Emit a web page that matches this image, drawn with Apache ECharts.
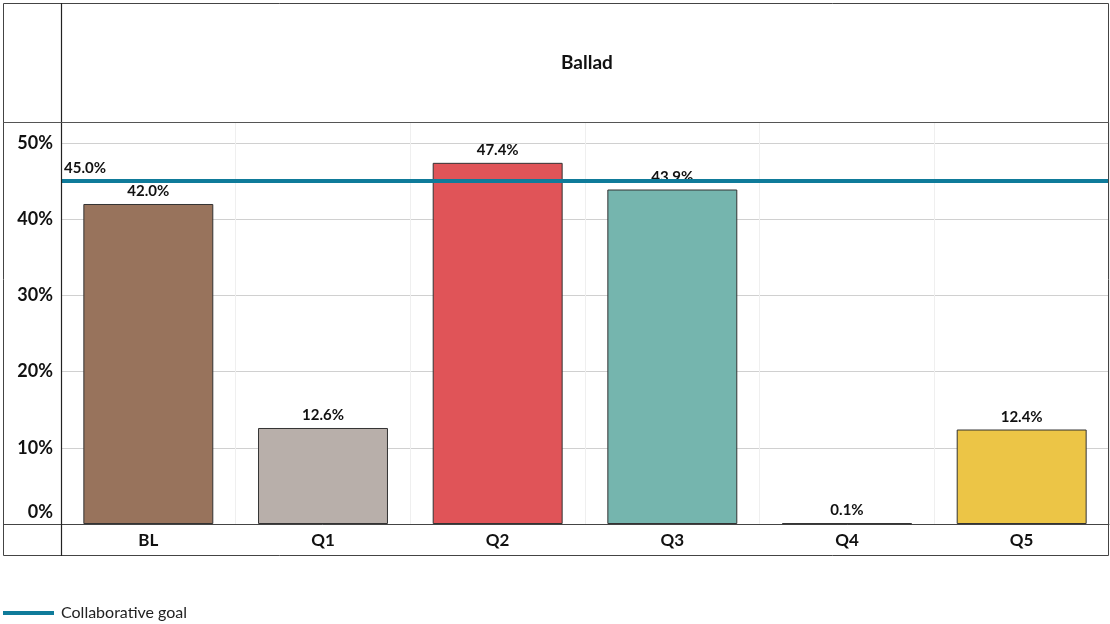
<!DOCTYPE html>
<html><head><meta charset="utf-8">
<script src="https://cdn.jsdelivr.net/npm/echarts@6/dist/echarts.min.js"></script>
<style>html,body{margin:0;padding:0;background:#fff}#c{width:1110px;height:624px}</style>
</head><body><div id="c"></div>
<script>
const categories = ['BL','Q1','Q2','Q3','Q4','Q5'];
const values = [42.0, 12.6, 47.4, 43.9, 0.1, 12.4];
const barColors = ['#98735c','#b8afaa','#e05458','#75b5ae','#333333','#ecc546'];
const goalValue = 45.0;
const goalName = 'Collaborative goal';
const title = 'Ballad';
const yTicks = [0,10,20,30,40,50];

const FONT = 'Lato';
const chart = echarts.init(document.getElementById('c'));
const frame = '#444';
chart.setOption({
  animation:false,
  backgroundColor:'#fff',
  textStyle:{fontFamily:FONT},
  title:{text:title,left:556,top:48,textStyle:{fontFamily:FONT,fontSize:19,fontWeight:'bold',color:'#111'}},
  grid:{left:61,right:1,top:122,bottom:100,containLabel:false},
  legend:{left:3,top:605,padding:0,icon:'rect',itemWidth:51,itemHeight:4,itemGap:6,
    textStyle:{fontFamily:FONT,fontSize:16,color:'#222',padding:[0,0,0,2]},data:[goalName]},
  xAxis:{type:'category',data:categories,
    axisLine:{show:true,lineStyle:{color:frame,width:1}},axisTick:{show:false},
    axisLabel:{fontFamily:FONT,fontSize:17,fontWeight:'bold',color:'#111',margin:8},
    splitLine:{show:true,lineStyle:{color:'#efefef',width:1}}},
  yAxis:{type:'value',min:0,max:52.76,interval:10,
    axisLine:{show:false},axisTick:{show:false},
    axisLabel:{fontFamily:FONT,fontSize:18,fontWeight:'bold',color:'#111',margin:8,
      formatter:v=>{const r=Math.round(v*100)/100; if(!yTicks.includes(r)) return ''; return r===0?'{z|0%}':r+'%';},
      rich:{z:{fontFamily:FONT,fontSize:18,fontWeight:'bold',color:'#111',padding:[0,0,24,0]}}},
    splitLine:{show:true,lineStyle:{color:'#d0d0d0',width:1}}},
  series:[
    {type:'bar',name:'values',barWidth:'74.4%',
      data:values.map((v,i)=>({value:v,itemStyle:{color:barColors[i]}})),
      itemStyle:{borderColor:'#333',borderWidth:1},
      label:{show:true,position:'top',distance:5,fontFamily:FONT,fontSize:15,fontWeight:'bold',color:'#111',
        formatter:p=>p.value.toFixed(1)+'%'},z:2},
    {type:'line',name:goalName,data:[],color:'#0f7b9a',z:5,
      markLine:{silent:true,symbol:['none','none'],
        lineStyle:{color:'#0f7b9a',width:4,type:'solid'},
        label:{show:true,position:'insideStartTop',distance:[3,5],fontFamily:FONT,fontSize:15,fontWeight:'bold',color:'#111',
          formatter:()=>goalValue.toFixed(1)+'%'},
        data:[{yAxis:goalValue}]}}
  ],
  graphic:[
    {type:'rect',shape:{x:3.5,y:3.5,width:1105,height:552},style:{fill:'none',stroke:frame,lineWidth:1},z:100},
    {type:'line',shape:{x1:61.5,y1:3,x2:61.5,y2:556},style:{stroke:'#222',lineWidth:1.2},z:100},
    {type:'line',shape:{x1:3,y1:122.5,x2:1109,y2:122.5},style:{stroke:'#555',lineWidth:1.2},z:100},
    {type:'line',shape:{x1:3,y1:524.5,x2:61,y2:524.5},style:{stroke:frame,lineWidth:1},z:100}
  ]
});
</script></body></html>
